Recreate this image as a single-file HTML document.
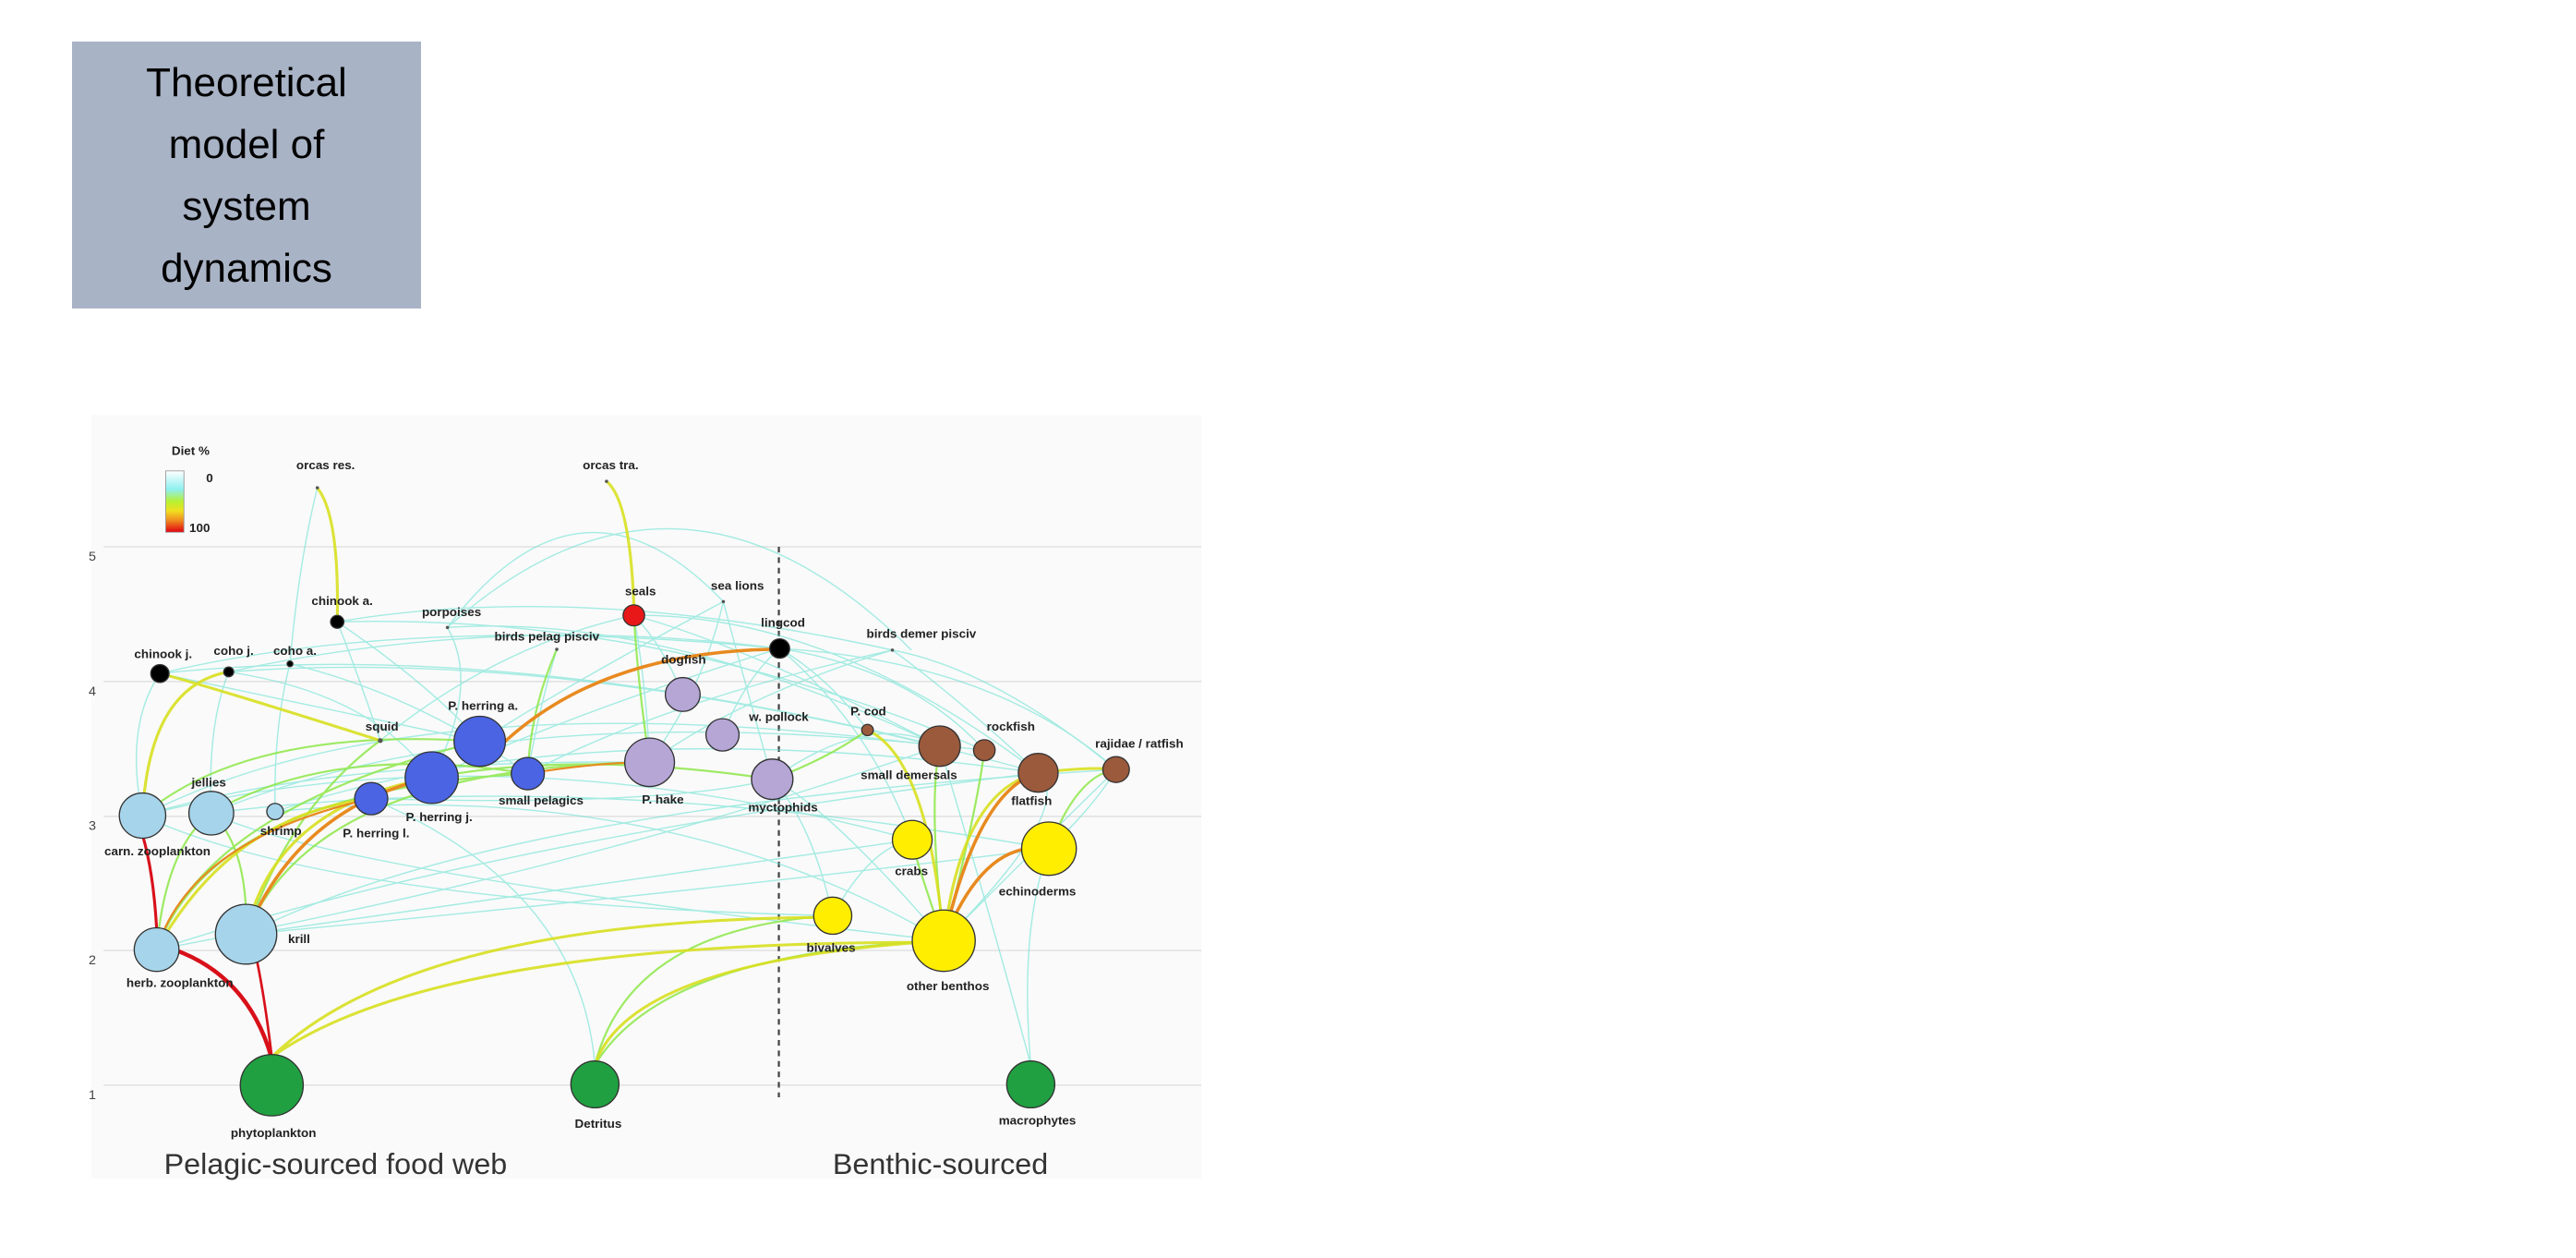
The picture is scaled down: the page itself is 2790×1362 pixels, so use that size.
<!DOCTYPE html>
<html><head><meta charset="utf-8"><style>
html,body{margin:0;padding:0;background:#fff;}
body{width:2790px;height:1362px;position:relative;overflow:hidden;font-family:"Liberation Sans",sans-serif;}
.box{position:absolute;left:78px;top:45px;width:378px;height:289px;background:#a9b3c6;color:#000;font-size:44px;line-height:67px;text-align:center;display:flex;align-items:center;justify-content:center;}
svg{position:absolute;left:0;top:0;}
.l{font-family:"Liberation Sans",sans-serif;font-weight:bold;font-size:15px;fill:#222;text-anchor:middle;}
.c{fill:none;stroke:#5ee0d0;stroke-width:1.6;opacity:.55}
.g{fill:none;stroke:#8ee84a;stroke-width:2.5;opacity:.85}
.y{fill:none;stroke:#d8e020;stroke-width:3.5;opacity:.9}
.o{fill:none;stroke:#e88a20;stroke-width:4;}
.r{fill:none;stroke:#d8101a;stroke-width:5;}
</style></head><body>
<div class="box"><div>Theoretical<br>model of<br>system<br>dynamics</div></div>
<svg width="2790" height="1362" viewBox="0 0 2790 1362">
<defs><linearGradient id="lg" x1="0" y1="0" x2="0" y2="1">
<stop offset="0" stop-color="#fff"/><stop offset=".3" stop-color="#8ef0f0"/><stop offset=".5" stop-color="#b8f030"/><stop offset=".65" stop-color="#f0e020"/><stop offset=".8" stop-color="#f09020"/><stop offset="1" stop-color="#e00010"/></linearGradient></defs>
<g transform="matrix(0.8974 0 0 0.874 0 -0.6)">
<rect x="110" y="515" width="1340" height="945" fill="#fafafa"/>
<g stroke="#e4e4e4" stroke-width="2">
<line x1="125" y1="678" x2="1450" y2="678"/><line x1="125" y1="845" x2="1450" y2="845"/>
<line x1="125" y1="1012" x2="1450" y2="1012"/><line x1="125" y1="1178" x2="1450" y2="1178"/>
<line x1="125" y1="1345" x2="1450" y2="1345"/></g>
<g font-family="Liberation Sans" font-size="16" fill="#444"><text x="107" y="695">5</text><text x="107" y="862">4</text><text x="107" y="1029">3</text><text x="107" y="1195">2</text><text x="107" y="1362">1</text></g>
<line x1="940" y1="678" x2="940" y2="1360" stroke="#444" stroke-width="2.5" stroke-dasharray="7,6"/>
<g class="c">
<path d="M540 778 Q700 560 873 746"/><path d="M540 778 Q820 520 1100 806"/><path d="M383 605 Q360 700 350 823"/>
<path d="M193 835 Q500 760 941 804"/><path d="M276 833 Q600 760 941 804"/><path d="M407 771 Q700 720 1077 806"/>
<path d="M172 1011 Q500 840 1134 925"/><path d="M255 1008 Q600 860 1188 930"/><path d="M332 1006 Q700 880 1253 958"/>
<path d="M189 1177 Q700 1080 1134 925"/><path d="M297 1158 Q700 1100 1101 1041"/><path d="M297 1158 Q800 1110 1266 1052"/>
<path d="M448 990 Q800 1000 932 966"/><path d="M521 964 Q700 880 941 804"/><path d="M579 919 Q700 840 873 746"/>
<path d="M637 959 Q800 870 1077 806"/><path d="M784 945 Q900 860 1077 806"/><path d="M932 966 Q1050 880 1134 925"/>
<path d="M1101 1041 Q1050 900 941 804"/><path d="M1139 1166 Q1000 1000 932 966"/><path d="M1005 1135 Q980 1020 932 966"/>
<path d="M1244 1320 Q1230 1150 1266 1052"/><path d="M1244 1320 Q1200 1150 1134 925"/><path d="M448 990 Q700 1100 718 1320"/>
<path d="M172 1011 Q150 900 193 835"/><path d="M255 1008 Q250 900 276 833"/><path d="M332 1006 Q330 900 350 823"/>
<path d="M459 918 Q430 830 407 771"/><path d="M459 918 Q600 800 765 763"/><path d="M784 945 Q780 850 765 763"/>
<path d="M824 861 Q800 800 765 763"/><path d="M872 911 Q900 840 941 804"/><path d="M1047 905 Q1000 840 941 804"/>
<path d="M1188 930 Q1100 830 941 804"/><path d="M1347 954 Q1200 830 1077 806"/><path d="M1253 958 Q1150 860 1077 806"/>
<path d="M297 1158 Q600 1000 1347 954"/><path d="M189 1177 Q600 1040 1253 958"/><path d="M172 1011 Q400 940 784 945"/>
<path d="M193 835 Q400 880 579 919"/><path d="M276 833 Q450 860 521 964"/><path d="M350 823 Q500 860 637 959"/>
<path d="M407 771 Q520 850 579 919"/><path d="M540 778 Q580 850 521 964"/><path d="M672 805 Q650 880 637 959"/>
<path d="M873 746 Q850 850 784 945"/><path d="M873 746 Q900 850 932 966"/><path d="M765 763 Q900 800 1134 925"/>
<path d="M1139 1166 Q1300 1000 1253 958"/><path d="M1139 1166 Q1300 1000 1347 954"/><path d="M1266 1052 Q1320 1000 1347 954"/>
<path d="M1005 1135 Q1050 1050 1101 1041"/><path d="M172 1011 Q400 1120 1005 1135"/><path d="M255 1008 Q400 1080 1139 1166"/>
<path d="M193 835 Q600 790 1134 925"/><path d="M276 833 Q700 800 1253 958"/><path d="M407 771 Q800 760 1188 930"/>
<path d="M172 1011 Q600 900 1101 1041"/><path d="M255 1008 Q700 950 1266 1052"/><path d="M332 1006 Q800 960 1139 1166"/>
<path d="M540 778 Q800 760 1134 925"/><path d="M765 763 Q1000 760 1253 958"/><path d="M941 804 Q1200 820 1347 954"/>
</g>
<g class="g">
<path d="M189 1177 Q250 1000 579 919"/><path d="M189 1177 Q260 980 637 959"/><path d="M297 1158 Q380 950 784 945"/>
<path d="M297 1158 Q350 1000 459 918"/><path d="M297 1158 Q300 1050 255 1008"/><path d="M189 1177 Q200 1050 255 1008"/>
<path d="M172 1011 Q300 900 579 919"/><path d="M255 1008 Q400 920 637 959"/><path d="M718 1320 Q760 1150 1005 1135"/>
<path d="M718 1320 Q800 1180 1139 1166"/><path d="M1139 1166 Q1100 1050 1101 1041"/><path d="M1139 1166 Q1120 1000 1134 925"/>
<path d="M1139 1166 Q1180 1000 1188 930"/><path d="M1266 1052 Q1300 960 1347 954"/><path d="M932 966 Q1000 940 1047 905"/>
<path d="M672 805 Q640 880 637 959"/><path d="M521 964 Q700 930 932 966"/><path d="M765 763 Q770 850 784 945"/>
</g>
<g class="y">
<path d="M383 605 Q410 640 407 771"/><path d="M732 597 Q760 620 765 750"/><path d="M328 1310 Q500 1140 1000 1137"/>
<path d="M328 1310 Q520 1170 1100 1168"/><path d="M718 1320 Q760 1190 1139 1166"/><path d="M172 1011 Q180 850 276 833"/>
<path d="M189 1177 Q280 1010 448 990"/><path d="M297 1158 Q330 1000 521 964"/><path d="M1139 1166 Q1160 980 1253 958"/>
<path d="M1047 905 Q1120 940 1139 1166"/><path d="M1253 958 Q1320 950 1347 954"/><path d="M193 835 Q250 850 459 918"/>
</g>
<g class="o">
<path d="M580 950 Q700 810 930 805"/><path d="M297 1158 Q360 1000 521 964"/><path d="M1139 1166 Q1180 1060 1240 1052"/>
<path d="M1139 1166 Q1180 980 1253 958"/><path d="M637 959 Q720 945 784 945" stroke-width="2.5"/>
<path d="M189 1177 Q230 1040 448 990" stroke-width="2.5"/>
</g>
<g class="r"><path d="M328 1312 Q300 1210 210 1177"/><path d="M189 1150 Q185 1080 172 1035" stroke-width="3.5"/><path d="M328 1310 Q320 1240 310 1190" stroke-width="3"/></g>
<g stroke="#333" stroke-width="1.5">
<circle cx="193" cy="835" r="11" fill="#000"/><circle cx="276" cy="833" r="6" fill="#000"/><circle cx="350" cy="823" r="3.5" fill="#000"/>
<circle cx="407" cy="771" r="8" fill="#000"/><circle cx="941" cy="804" r="12" fill="#000"/><circle cx="765" cy="763" r="13" fill="#e81818"/>
<circle cx="824" cy="861" r="21" fill="#b5a6d6"/><circle cx="872" cy="911" r="20" fill="#b5a6d6"/><circle cx="784" cy="945" r="30" fill="#b5a6d6"/><circle cx="932" cy="966" r="25" fill="#b5a6d6"/>
<circle cx="579" cy="919" r="31" fill="#4a64e4"/><circle cx="521" cy="964" r="32" fill="#4a64e4"/><circle cx="637" cy="959" r="20" fill="#4a64e4"/><circle cx="448" cy="990" r="20" fill="#4a64e4"/>
<circle cx="1047" cy="905" r="7" fill="#9b5a3c"/><circle cx="1134" cy="925" r="25" fill="#9b5a3c"/><circle cx="1188" cy="930" r="13" fill="#9b5a3c"/><circle cx="1253" cy="958" r="24" fill="#9b5a3c"/><circle cx="1347" cy="954" r="16" fill="#9b5a3c"/>
<circle cx="172" cy="1011" r="28" fill="#a6d4ea"/><circle cx="255" cy="1008" r="27" fill="#a6d4ea"/><circle cx="332" cy="1006" r="10" fill="#a6d4ea"/><circle cx="189" cy="1177" r="27" fill="#a6d4ea"/><circle cx="297" cy="1158" r="37" fill="#a6d4ea"/>
<circle cx="1101" cy="1041" r="24" fill="#ffee00"/><circle cx="1266" cy="1052" r="33" fill="#ffee00"/><circle cx="1005" cy="1135" r="23" fill="#ffee00"/><circle cx="1139" cy="1166" r="38" fill="#ffee00"/>
<circle cx="328" cy="1345" r="38" fill="#20a040"/><circle cx="718" cy="1344" r="29" fill="#20a040"/><circle cx="1244" cy="1344" r="29" fill="#20a040"/>
</g>
<g fill="#555"><circle cx="383" cy="605" r="2"/><circle cx="732" cy="597" r="2"/><circle cx="540" cy="778" r="2"/><circle cx="672" cy="805" r="2"/><circle cx="873" cy="746" r="2"/><circle cx="1077" cy="806" r="2"/><circle cx="459" cy="918" r="3"/></g>
<text x="230" y="564" class="l" font-size="16">Diet %</text>
<rect x="200" y="584" width="22" height="76" fill="url(#lg)" stroke="#999"/>
<text x="253" y="598" class="l" font-size="16">0</text><text x="241" y="660" class="l" font-size="16">100</text>
<text class="l" x="197" y="816">chinook j.</text><text class="l" x="282" y="812">coho j.</text><text class="l" x="356" y="812">coho a.</text>
<text class="l" x="413" y="750">chinook a.</text><text class="l" x="393" y="582">orcas res.</text><text class="l" x="737" y="582">orcas tra.</text>
<text class="l" x="545" y="764">porpoises</text><text class="l" x="660" y="794">birds pelag pisciv</text><text class="l" x="773" y="738">seals</text>
<text class="l" x="890" y="731">sea lions</text><text class="l" x="945" y="777">lingcod</text><text class="l" x="1112" y="791">birds demer pisciv</text>
<text class="l" x="825" y="823">dogfish</text><text class="l" x="940" y="894">w. pollock</text><text class="l" x="1048" y="887">P. cod</text>
<text class="l" x="461" y="906">squid</text><text class="l" x="583" y="880">P. herring a.</text><text class="l" x="530" y="1018">P. herring j.</text>
<text class="l" x="653" y="997">small pelagics</text><text class="l" x="800" y="996">P. hake</text><text class="l" x="945" y="1006">myctophids</text>
<text class="l" x="1097" y="966">small demersals</text><text class="l" x="1220" y="906">rockfish</text><text class="l" x="1245" y="998">flatfish</text>
<text class="l" x="1375" y="927">rajidae / ratfish</text><text class="l" x="190" y="1060">carn. zooplankton</text><text class="l" x="252" y="975">jellies</text>
<text class="l" x="339" y="1035">shrimp</text><text class="l" x="454" y="1038">P. herring l.</text><text class="l" x="1100" y="1085">crabs</text>
<text class="l" x="1252" y="1110">echinoderms</text><text class="l" x="217" y="1223">herb. zooplankton</text><text class="l" x="361" y="1169">krill</text>
<text class="l" x="1003" y="1180">bivalves</text><text class="l" x="1144" y="1227">other benthos</text><text class="l" x="330" y="1409">phytoplankton</text>
<text class="l" x="722" y="1398">Detritus</text><text class="l" x="1252" y="1394">macrophytes</text>
<text x="405" y="1455" font-family="Liberation Sans" font-size="36" fill="#333" text-anchor="middle">Pelagic-sourced food web</text>
<text x="1135" y="1455" font-family="Liberation Sans" font-size="36" fill="#333" text-anchor="middle">Benthic-sourced</text>
</g>
</svg>
</body></html>
